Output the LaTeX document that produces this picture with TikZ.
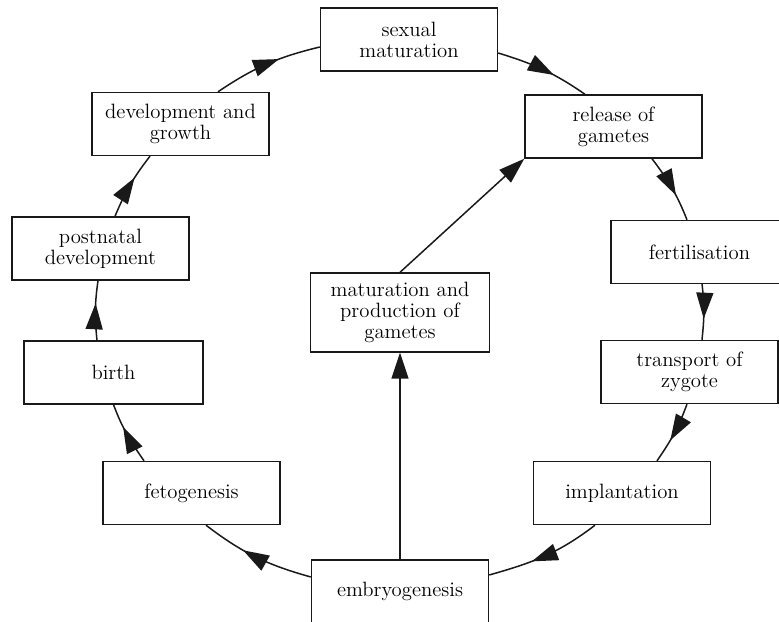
\documentclass[tikz,border=0pt]{standalone}
\usetikzlibrary{arrows.meta,decorations.markings,calc}
\begin{document}
\begin{tikzpicture}[x=0.02cm,y=0.02cm,
  box/.style={draw=black!90, line width=0.8pt, fill=white, align=center,
    minimum width=3.54cm, minimum height=1.26cm, inner sep=2pt,
    text=black, font=\fontsize{11.8}{12}\selectfont},
  link/.style={draw=black!90, line width=0.85pt},
  cyc/.style={link, postaction={decorate}, decoration={markings,
    mark=at position 0.62 with {\arrow{Triangle[length=0.52cm,width=0.34cm]}}}},
  tipend/.style={link, -{Triangle[length=0.52cm,width=0.34cm]}}]
\useasboundingbox (0,0) rectangle (779,622);
\clip (0,0) rectangle (779,622);
% nodes
\node[box] (sm) at (409,582.5) {sexual\\maturation};
\node[box] (rg) at (613.5,495.5) {release of\\gametes};
\node[box] (fe) at (699.5,370) {fertilisation};
\node[box] (tz) at (689.5,250) {transport of\\zygote};
\node[box] (im) at (622,129) {implantation};
\node[box] (em) at (400,30.5) {embryogenesis};
\node[box] (fg) at (191.5,129) {fetogenesis};
\node[box, minimum width=3.58cm] (bi) at (113.5,249.5) {birth};
\node[box] (pn) at (100.5,373.5) {postnatal\\development};
\node[box] (dg) at (180.5,498) {development and\\growth};
\node[box, minimum width=3.58cm, minimum height=1.58cm] (mp) at (400,309.5) {maturation and\\production of\\gametes};
% cycle connectors
\draw[cyc] ($(dg.north)+(37.5,0)$) to[out=34,in=193.6] ($(sm.west)+(0,-7.5)$);
\draw[cyc] ($(sm.east)+(0,-13.5)$) to[out=-17,in=145.3] ($(rg.north)+(-28.5,0)$);
\draw[cyc] ($(rg.south)+(38.5,0)$) to[out=-52.9,in=111.7] ($(fe.north)+(-12.5,0)$);
\draw[cyc] ($(fe.south)+(2.5,0)$) to[out=-82.7,in=84] ($(tz.north)+(12.5,0)$);
\draw[cyc] ($(tz.south)+(-2.5,0)$) to[out=-110.4,in=55.2] ($(im.north)+(35,0)$);
\draw[cyc] ($(im.south)+(-27,0)$) to[out=-142.5,in=15.7] ($(em.east)+(0,16.5)$);
\draw[cyc] ($(em.west)+(0,14.5)$) to[out=164.4,in=-37.4] ($(fg.south)+(14.5,0)$);
\draw[cyc] ($(fg.north)+(-47.5,0)$) to[out=124.9,in=-69.4] (bi.south);
\draw[cyc] ($(bi.north)+(-16.5,0)$) to[out=96,in=-98] ($(pn.south)+(-2.5,0)$);
\draw[cyc] ($(pn.north)+(14.5,0)$) to[out=67.3,in=-127.8] ($(dg.south)+(-30.5,0)$);
% straight connectors
\draw[tipend] (em.north) -- (mp.south);
\draw[tipend] (mp.north) -- (rg.south west);
\end{tikzpicture}
\end{document}
